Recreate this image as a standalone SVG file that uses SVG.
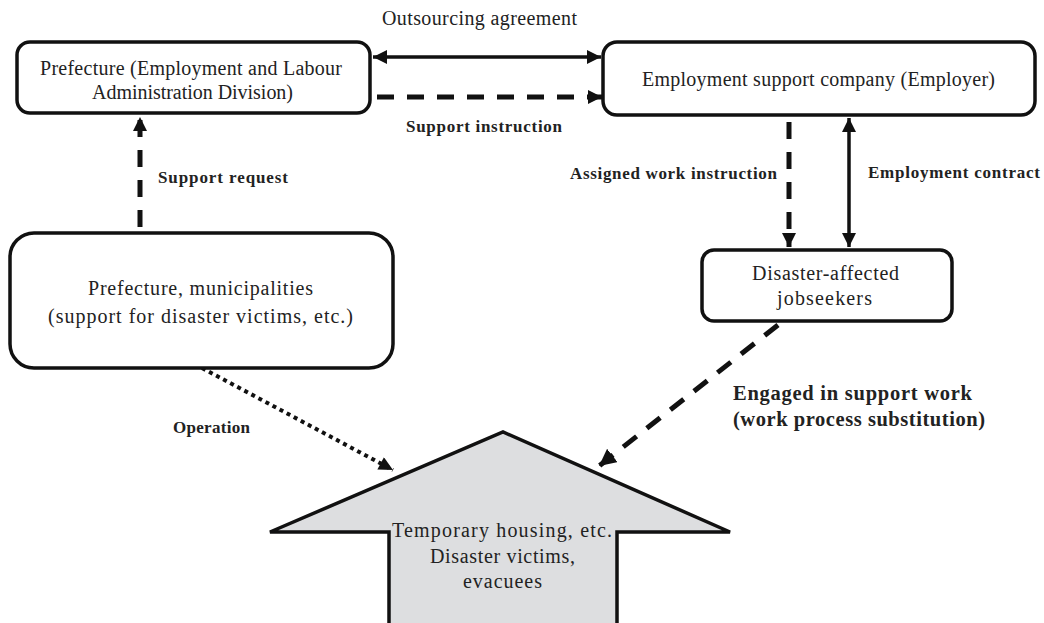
<svg xmlns="http://www.w3.org/2000/svg" width="1044" height="623" viewBox="0 0 1044 623">
<defs>
<marker id="ah" viewBox="0 0 10 10" refX="10" refY="5" markerWidth="15" markerHeight="14" markerUnits="userSpaceOnUse" orient="auto-start-reverse">
<path d="M0,0 L10,5 L0,10 z" fill="#111"/>
</marker>
<marker id="ahL" viewBox="0 0 10 10" refX="10" refY="5" markerWidth="17" markerHeight="17" markerUnits="userSpaceOnUse" orient="auto-start-reverse">
<path d="M0,0 L10,5 L0,10 z" fill="#111"/>
</marker>
</defs>
<style>
.box{fill:#fff;stroke:#111;stroke-width:3.5}
.t{font-family:"Liberation Serif","Times New Roman",serif;font-size:20px;fill:#222}
.b{font-family:"Liberation Serif","Times New Roman",serif;font-size:17px;font-weight:bold;fill:#222}
.bl{font-family:"Liberation Serif","Times New Roman",serif;font-size:20.5px;font-weight:bold;fill:#222}
.solid{stroke:#111;stroke-width:3.5;fill:none}
.dash{stroke:#111;stroke-width:5;fill:none;stroke-dasharray:17 13}
.dot{stroke:#111;stroke-width:4;fill:none;stroke-dasharray:4 4}
</style>
<rect width="1044" height="623" fill="#fff"/>
<g id="connectors">
<line class="solid" x1="373" y1="57" x2="601" y2="57" marker-start="url(#ah)" marker-end="url(#ah)"/>
<line class="dash" x1="377" y1="97" x2="602" y2="97" marker-end="url(#ah)"/>
<line class="dash" x1="140" y1="227" x2="140" y2="117" marker-end="url(#ah)"/>
<line class="dash" x1="789" y1="122" x2="789" y2="247" marker-end="url(#ah)"/>
<line class="solid" x1="849" y1="118" x2="849" y2="247" marker-start="url(#ah)" marker-end="url(#ah)"/>
<line class="dash" x1="778" y1="325" x2="599" y2="466" marker-end="url(#ahL)"/>
<line class="dot" x1="202" y1="368" x2="393" y2="470" marker-end="url(#ah)"/>
</g>
<g id="label-outsourcing"><text class="t" x="382" y="25" textLength="195" lengthAdjust="spacing">Outsourcing agreement</text></g>
<g id="label-support-instruction"><text class="b" x="406" y="132" textLength="156" lengthAdjust="spacing">Support instruction</text></g>
<g id="label-support-request"><text class="b" x="158" y="183" textLength="130" lengthAdjust="spacing">Support request</text></g>
<g id="label-assigned"><text class="b" x="570" y="179" textLength="207" lengthAdjust="spacing">Assigned work instruction</text></g>
<g id="label-employment-contract"><text class="b" x="868" y="178" textLength="172" lengthAdjust="spacing">Employment contract</text></g>
<g id="label-engaged">
<text class="bl" x="733" y="400" textLength="239" lengthAdjust="spacing">Engaged in support work</text>
<text class="bl" x="733" y="426" textLength="252" lengthAdjust="spacing">(work process substitution)</text>
</g>
<g id="label-operation"><text class="b" x="173" y="433" textLength="77" lengthAdjust="spacing">Operation</text></g>
<g id="node-prefecture-employment">
<rect class="box" x="17" y="42" width="353" height="71" rx="13"/>
<text class="t" x="40" y="75" textLength="302" lengthAdjust="spacing">Prefecture (Employment and Labour</text>
<text class="t" x="92" y="99" textLength="201" lengthAdjust="spacing">Administration Division)</text>
</g>
<g id="node-employment-support-company">
<rect class="box" x="603" y="42" width="432" height="73" rx="14"/>
<text class="t" x="642" y="86" textLength="353" lengthAdjust="spacing">Employment support company (Employer)</text>
</g>
<g id="node-prefecture-municipalities">
<rect class="box" x="10" y="233" width="383" height="135" rx="24"/>
<text class="t" x="88" y="295" textLength="225" lengthAdjust="spacing">Prefecture, municipalities</text>
<text class="t" x="48" y="323" textLength="305" lengthAdjust="spacing">(support for disaster victims, etc.)</text>
</g>
<g id="node-jobseekers">
<rect class="box" x="702" y="250" width="250" height="71" rx="12"/>
<text class="t" x="752" y="280" textLength="147" lengthAdjust="spacing">Disaster-affected</text>
<text class="t" x="777" y="305" textLength="95" lengthAdjust="spacing">jobseekers</text>
</g>
<g id="node-temporary-housing">
<path d="M389,625 L389,532 L270,532 L503,432 L730,532 L617,532 L617,625" fill="#dddee0" stroke="#111" stroke-width="3.5" stroke-linejoin="miter"/>
<text class="t" x="392" y="537" textLength="220" lengthAdjust="spacing">Temporary housing, etc.</text>
<text class="t" x="430" y="563" textLength="145" lengthAdjust="spacing">Disaster victims,</text>
<text class="t" x="463" y="588" textLength="79" lengthAdjust="spacing">evacuees</text>
</g>
</svg>
